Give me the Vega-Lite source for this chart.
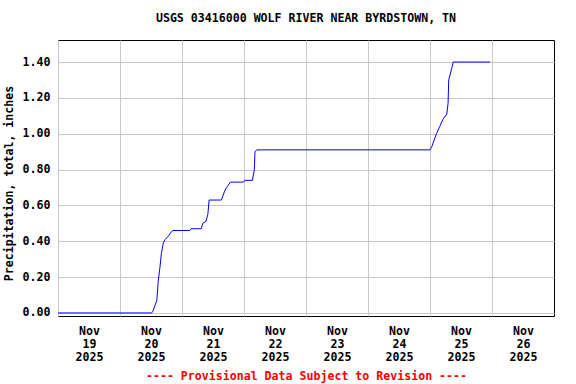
{
  "$schema": "https://vega.github.io/schema/vega-lite/v6.json",
  "width": 496,
  "height": 276,
  "autosize": {"type": "none"},
  "padding": {"left": 58, "top": 40, "right": 22, "bottom": 68},
  "background": "white",
  "title": {
    "text": "USGS 03416000 WOLF RIVER NEAR BYRDSTOWN, TN",
    "font": "DejaVu Sans Mono",
    "fontSize": 11.6,
    "fontWeight": "bold",
    "color": "black",
    "anchor": "middle",
    "offset": 15
  },
  "config": {
    "view": {"stroke": "black", "strokeWidth": 1},
    "axis": {
      "labelFont": "DejaVu Sans Mono",
      "labelFontSize": 11.6,
      "labelFontWeight": "bold",
      "labelColor": "black",
      "titleFont": "DejaVu Sans Mono",
      "titleFontSize": 11.6,
      "titleFontWeight": "bold",
      "titleColor": "black",
      "gridColor": "#c8c8c8",
      "gridOpacity": 1,
      "gridWidth": 1,
      "ticks": false,
      "domain": false
    }
  },
  "data": {
    "values": [
      {"time": "2025-11-19T00:00", "precip": 0},
      {"time": "2025-11-20T12:15", "precip": 0},
      {"time": "2025-11-20T12:45", "precip": 0.01},
      {"time": "2025-11-20T14:15", "precip": 0.07},
      {"time": "2025-11-20T14:45", "precip": 0.17},
      {"time": "2025-11-20T15:30", "precip": 0.26},
      {"time": "2025-11-20T16:00", "precip": 0.33},
      {"time": "2025-11-20T16:45", "precip": 0.39},
      {"time": "2025-11-20T17:30", "precip": 0.41},
      {"time": "2025-11-20T18:45", "precip": 0.43},
      {"time": "2025-11-20T20:00", "precip": 0.455},
      {"time": "2025-11-20T20:30", "precip": 0.46},
      {"time": "2025-11-21T03:00", "precip": 0.46},
      {"time": "2025-11-21T03:30", "precip": 0.47},
      {"time": "2025-11-21T07:30", "precip": 0.47},
      {"time": "2025-11-21T08:00", "precip": 0.5},
      {"time": "2025-11-21T09:15", "precip": 0.51},
      {"time": "2025-11-21T10:00", "precip": 0.55},
      {"time": "2025-11-21T10:30", "precip": 0.63},
      {"time": "2025-11-21T15:15", "precip": 0.63},
      {"time": "2025-11-21T16:30", "precip": 0.68},
      {"time": "2025-11-21T17:15", "precip": 0.7},
      {"time": "2025-11-21T18:45", "precip": 0.73},
      {"time": "2025-11-21T23:45", "precip": 0.73},
      {"time": "2025-11-22T00:15", "precip": 0.74},
      {"time": "2025-11-22T03:15", "precip": 0.74},
      {"time": "2025-11-22T04:00", "precip": 0.8},
      {"time": "2025-11-22T04:15", "precip": 0.9},
      {"time": "2025-11-22T05:00", "precip": 0.91},
      {"time": "2025-11-25T00:00", "precip": 0.91},
      {"time": "2025-11-25T00:45", "precip": 0.93},
      {"time": "2025-11-25T02:00", "precip": 0.98},
      {"time": "2025-11-25T02:30", "precip": 1.0},
      {"time": "2025-11-25T03:45", "precip": 1.04},
      {"time": "2025-11-25T05:00", "precip": 1.08},
      {"time": "2025-11-25T06:30", "precip": 1.11},
      {"time": "2025-11-25T07:00", "precip": 1.17},
      {"time": "2025-11-25T07:15", "precip": 1.3},
      {"time": "2025-11-25T08:30", "precip": 1.37},
      {"time": "2025-11-25T09:00", "precip": 1.4},
      {"time": "2025-11-25T23:15", "precip": 1.4}
    ]
  },
  "mark": {"type": "line", "color": "#0000ff", "strokeWidth": 1, "clip": true},
  "encoding": {
    "x": {
      "field": "time",
      "type": "temporal",
      "scale": {
        "domain": [
          {"year": 2025, "month": 11, "date": 19},
          {"year": 2025, "month": 11, "date": 27}
        ]
      },
      "axis": {
        "values": [
          {"year": 2025, "month": 11, "date": 19},
          {"year": 2025, "month": 11, "date": 20},
          {"year": 2025, "month": 11, "date": 21},
          {"year": 2025, "month": 11, "date": 22},
          {"year": 2025, "month": 11, "date": 23},
          {"year": 2025, "month": 11, "date": 24},
          {"year": 2025, "month": 11, "date": 25},
          {"year": 2025, "month": 11, "date": 26}
        ],
        "labelExpr": "[timeFormat(datum.value, '%b'), timeFormat(datum.value, '%d'), timeFormat(datum.value, '%Y')]",
        "labelOffset": 31,
        "labelAlign": "center",
        "labelBaseline": "top",
        "labelLineHeight": 13,
        "labelPadding": 9,
        "labelFlush": false,
        "labelOverlap": false,
        "grid": true,
        "title": "---- Provisional Data Subject to Revision ----",
        "titleColor": "#ff0000",
        "titlePadding": 8
      }
    },
    "y": {
      "field": "precip",
      "type": "quantitative",
      "scale": {"domain": [-0.017, 1.523], "nice": false, "zero": false},
      "axis": {
        "values": [0, 0.2, 0.4, 0.6, 0.8, 1.0, 1.2, 1.4],
        "format": ".2f",
        "labelPadding": 8,
        "grid": true,
        "title": "Precipitation, total, inches",
        "titlePadding": 8,
        "titleY": 143
      }
    }
  }
}
